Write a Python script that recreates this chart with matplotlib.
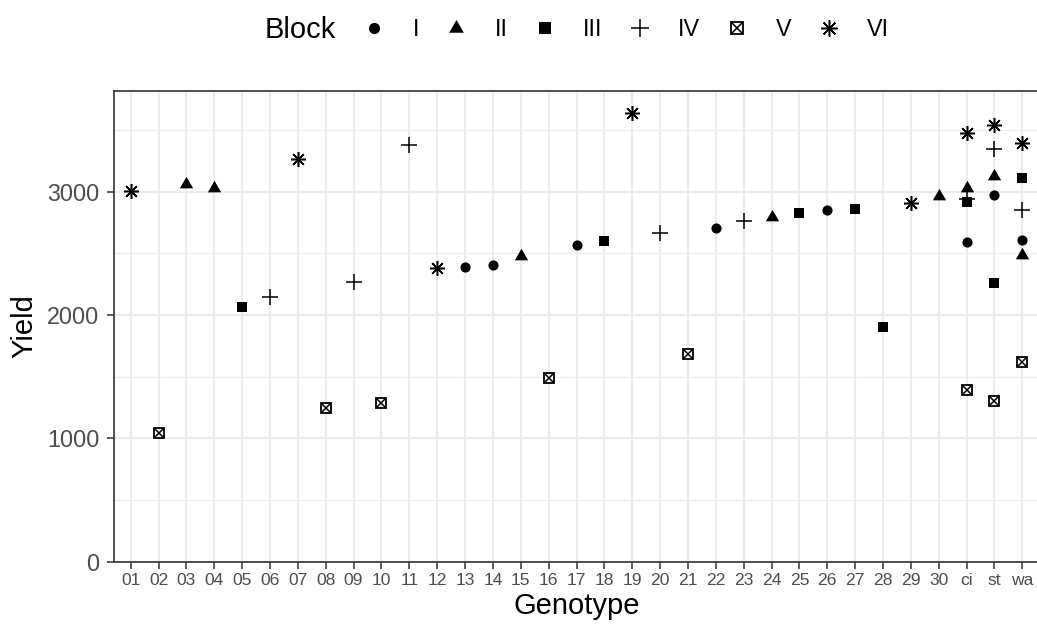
import matplotlib
matplotlib.use("Agg")
import matplotlib.pyplot as plt
from matplotlib.lines import Line2D
from matplotlib.markers import MarkerStyle

plt.rcParams['font.family'] = ['Liberation Sans', 'DejaVu Sans']

genotypes = ['01', '02', '03', '04', '05', '06', '07', '08', '09', '10',
             '11', '12', '13', '14', '15', '16', '17', '18', '19', '20',
             '21', '22', '23', '24', '25', '26', '27', '28', '29', '30',
             'ci', 'st', 'wa']
blocks = ['I', 'II', 'III', 'IV', 'V', 'VI']

geno_I = ['13', '14', '17', '22', '26', 'ci', 'st', 'wa']
yield_I = [2388, 2405, 2572, 2705, 2856, 2591, 2972, 2607]
geno_II = ['03', '04', '15', '24', '30', 'ci', 'st', 'wa']
yield_II = [3066, 3029, 2483, 2799, 2967, 3034, 3131, 2488]
geno_III = ['05', '18', '25', '27', '28', 'ci', 'st', 'wa']
yield_III = [2064, 2599, 2826, 2859, 1902, 2916, 2259, 3110]
geno_IV = ['06', '09', '11', '20', '23', 'ci', 'st', 'wa']
yield_IV = [2145, 2267, 3380, 2667, 2767, 2945, 3348, 2853]
geno_V = ['02', '08', '10', '16', '21', 'ci', 'st', 'wa']
yield_V = [1047, 1250, 1285, 1487, 1684, 1393, 1307, 1623]
geno_VI = ['01', '07', '12', '19', '29', 'ci', 'st', 'wa']
yield_VI = [3007, 3264, 2380, 3643, 2910, 3480, 3543, 3399]

data = {
    'I': (geno_I, yield_I),
    'II': (geno_II, yield_II),
    'III': (geno_III, yield_III),
    'IV': (geno_IV, yield_IV),
    'V': (geno_V, yield_V),
    'VI': (geno_VI, yield_VI),
}

# equilateral triangle centred on its centroid (like R's pch 17)
tri = [(-1.0, -0.577), (1.0, -0.577), (0.0, 1.155), (-1.0, -0.577)]

# marker styles (ggplot shapes 16, 17, 15, 3, 7, 8)
styles = {
    'I': [dict(marker='o', ms=7.3, mfc='black', mec='black', mew=0)],
    'II': [dict(marker=tri, ms=11.1, mfc='black', mec='black', mew=0)],
    'III': [dict(marker='s', ms=7.7, mfc='black', mec='black', mew=0)],
    'IV': [dict(marker='+', ms=11.5, mfc='none', mec='black', mew=1.1)],
    'V': [dict(marker='s', ms=7.4, mfc='none', mec='black', mew=1.3),
          dict(marker='x', ms=6.0, mfc='none', mec='black', mew=1.1)],
    'VI': [dict(marker=MarkerStyle((8, 2, 0)), ms=10.8, mfc='none', mec='black', mew=1.1)],
}
zorders = {'I': 3, 'II': 3, 'III': 4, 'IV': 2, 'V': 3, 'VI': 3}

W, H = 1037, 628
fig = plt.figure(figsize=(W / 100, H / 100), dpi=100)
left, right, top, bottom = 114, 1039, 90.7, 561.7
ax = fig.add_axes([left / W, (H - bottom) / H, (right - left) / W, (bottom - top) / H])

xpos = {g: i for i, g in enumerate(genotypes)}
for b in blocks:
    gs, ys = data[b]
    xs = [xpos[g] for g in gs]
    for st in styles[b]:
        ax.plot(xs, ys, linestyle='none', zorder=zorders[b], clip_on=False, **st)

ax.set_xlim(-0.6, len(genotypes) - 1 + 0.6)
ax.set_ylim(0, 3820)
ax.set_xticks(range(len(genotypes)))
ax.set_xticklabels(genotypes)
ax.set_yticks([0, 1000, 2000, 3000])
ax.set_yticks([500, 1500, 2500, 3500], minor=True)

grid_c = '#EBEBEB'
ax.grid(True, which='major', color=grid_c, linewidth=1.6, zorder=0)
ax.grid(True, which='minor', axis='y', color=grid_c, linewidth=0.8, zorder=0)
ax.set_axisbelow(True)
for sp in ax.spines.values():
    sp.set_color('#333333')
    sp.set_linewidth(1.2)

ax.tick_params(axis='both', which='major', length=5, width=1.1, color='#333333',
               labelcolor='#4D4D4D')
ax.tick_params(axis='y', which='minor', length=0)
ax.tick_params(axis='y', labelsize=16.8, pad=5.5)
ax.tick_params(axis='x', labelsize=12.6, pad=3.3)

ax.set_xlabel('Genotype', fontsize=21, labelpad=3)
ax.set_ylabel('Yield', fontsize=21, labelpad=6)

# legend on top
handles = []
for b in blocks:
    st = styles[b][0]
    h = Line2D([], [], linestyle='none', **st)
    if b == 'V':
        h = (h, Line2D([], [], linestyle='none', **styles[b][1]))
    handles.append(h)
ycen = 1 - 30 / H
fig.text(265 / W, ycen, 'Block', fontsize=21, ha='left', va='center')
leg = fig.legend(handles, blocks, loc='center left', bbox_to_anchor=(362.3 / W, ycen),
                 ncol=6, frameon=False, fontsize=16.8, handlelength=1.0,
                 handletextpad=1.15, columnspacing=1.09, borderpad=0, borderaxespad=0,
                 markerscale=1.1)

fig.savefig('out.png', dpi=100)
